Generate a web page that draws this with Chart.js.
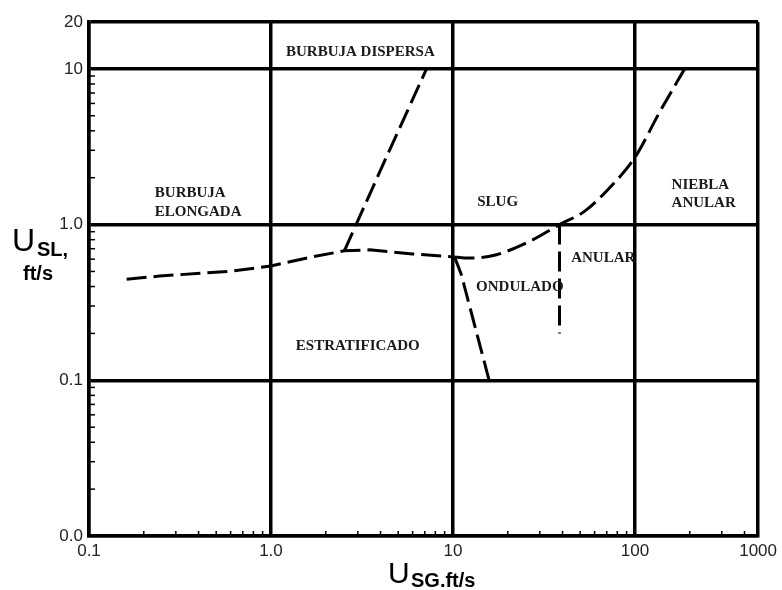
<!DOCTYPE html>
<html><head><meta charset="utf-8">
<script src="https://cdn.jsdelivr.net/npm/chart.js@4/dist/chart.umd.min.js"></script>
<style>html,body{margin:0;padding:0;background:#fff}canvas{display:block}</style>
</head><body>
<canvas id="c" width="782" height="590"></canvas>
<script>
// Axis ticks
const xTickValues = [0.1, 1, 10, 100, 475];
const xTickLabels = ["0.1", "1.0", "10", "100", "1000"];
const yTickValues = [0.01, 0.1, 1, 10, 20];
const yTickLabels = ["0.0", "0.1", "1.0", "10", "20"];

// Flow-regime boundaries (USG ft/s, USL ft/s)
const stratBoundaryX = [0.161, 0.244, 0.612, 1.0, 1.68, 2.53, 3.47, 6.0, 10.2];
const stratBoundaryY = [0.446, 0.467, 0.503, 0.542, 0.62, 0.678, 0.688, 0.648, 0.62];
const dispersedBoundaryX = [2.53, 4.3, 7.16];
const dispersedBoundaryY = [0.678, 2.7, 10];
const wavyBoundaryX = [10.2, 11.1, 15.8];
const wavyBoundaryY = [0.62, 0.48, 0.1];
const slugAnnularX = [10.2, 11.6, 16.4, 26.1, 38.5, 53, 73.5, 100, 137, 187.5];
const slugAnnularY = [0.62, 0.61, 0.63, 0.776, 1.0, 1.22, 1.75, 2.70, 5.3, 10];
const annularWavyX = [38.5, 38.5];
const annularWavyY = [1.0, 0.2];

// Region names and their anchors in data units
const regionNames = ["BURBUJA DISPERSA", "BURBUJA", "ELONGADA", "SLUG", "NIEBLA", "ANULAR", "ANULAR", "ONDULADO", "ESTRATIFICADO"];
const regionX = [3.1, 0.23, 0.23, 13.6, 159, 159, 44.6, 13.4, 1.37];
const regionY = [12.1, 1.50, 1.14, 1.31, 1.68, 1.30, 0.575, 0.373, 0.157];
const regionAlign = ["center", "left", "left", "left", "left", "left", "left", "left", "left"];

function pts(xs, ys) { return xs.map((x, i) => ({ x: x, y: ys[i] })); }
function lineDs(xs, ys, tension) {
  return { data: pts(xs, ys), showLine: true, borderColor: '#000', borderWidth: 3,
    borderDash: [20, 7], pointRadius: 0, fill: false, tension: tension || 0,
    cubicInterpolationMode: tension ? 'monotone' : 'default' };
}

const decoPlugin = {
  id: 'deco',
  afterDraw(chart) {
    const ctx = chart.ctx, xs = chart.scales.x, ys = chart.scales.y, a = chart.chartArea;
    ctx.save();
    // minor ticks (inward)
    ctx.strokeStyle = '#000'; ctx.lineWidth = 1.5;
    for (let d = 0.1; d < 1000; d *= 10) {
      for (let m = 2; m <= 9; m++) {
        const v = d * m;
        if (v >= xs.max) continue;
        const px = xs.getPixelForValue(v);
        ctx.beginPath(); ctx.moveTo(px, a.bottom); ctx.lineTo(px, a.bottom - 5); ctx.stroke();
      }
    }
    for (let d = 0.01; d < 20; d *= 10) {
      for (let m = 2; m <= 9; m++) {
        const v = d * m;
        if (v >= ys.max) continue;
        const py = ys.getPixelForValue(v);
        ctx.beginPath(); ctx.moveTo(a.left, py); ctx.lineTo(a.left + 6, py); ctx.stroke();
      }
    }
    // region labels
    ctx.fillStyle = '#1a1a1a';
    ctx.font = 'bold 15px "Liberation Serif"';
    ctx.textBaseline = 'alphabetic';
    regionNames.forEach((t, i) => {
      ctx.textAlign = regionAlign[i];
      ctx.fillText(t, xs.getPixelForValue(regionX[i]), ys.getPixelForValue(regionY[i]));
    });
    // axis titles
    ctx.fillStyle = '#000';
    ctx.textAlign = 'left';
    ctx.font = '32px "Liberation Sans"';
    ctx.fillText('U', 12, 251);
    ctx.font = 'bold 20px "Liberation Sans"';
    ctx.fillText('SL,', 37, 256);
    ctx.fillText('ft/s', 23, 280);
    ctx.font = '30px "Liberation Sans"';
    ctx.fillText('U', 388, 583);
    ctx.font = 'bold 20px "Liberation Sans"';
    ctx.fillText('SG.ft/s', 411, 587);
    ctx.restore();
  }
};

new Chart(document.getElementById('c').getContext('2d'), {
  type: 'scatter',
  data: { datasets: [
    lineDs(stratBoundaryX, stratBoundaryY, 0),
    lineDs(dispersedBoundaryX, dispersedBoundaryY, 0),
    lineDs(wavyBoundaryX, wavyBoundaryY, 0),
    lineDs(slugAnnularX, slugAnnularY, 0.4),
    lineDs(annularWavyX, annularWavyY, 0)
  ] },
  options: {
    responsive: false, animation: false,
    layout: { padding: { left: 0, right: 20, top: 22, bottom: 0 } },
    plugins: { legend: { display: false }, tooltip: { enabled: false } },
    scales: {
      x: {
        type: 'logarithmic', min: 0.1, max: 475,
        afterBuildTicks(s) { s.ticks = xTickValues.map(v => ({ value: v })); },
        afterFit(s) { s.height = 54; },
        ticks: { callback: (v, i) => xTickLabels[i], color: '#222', autoSkip: false, maxRotation: 0,
          font: { family: 'Liberation Sans', size: 17 }, padding: 5 },
        grid: { color: '#000', lineWidth: 3.5, drawTicks: false },
        border: { color: '#000', width: 3.5 }
      },
      y: {
        type: 'logarithmic', min: 0.01, max: 20,
        afterBuildTicks(s) { s.ticks = yTickValues.map(v => ({ value: v })); },
        afterFit(s) { s.width = 89; },
        ticks: { callback: (v, i) => yTickLabels[i], color: '#222', autoSkip: false,
          font: { family: 'Liberation Sans', size: 17 }, padding: 6 },
        grid: { color: '#000', lineWidth: 3.5, drawTicks: false },
        border: { color: '#000', width: 3.5 }
      }
    }
  },
  plugins: [decoPlugin]
});
</script>
</body></html>
